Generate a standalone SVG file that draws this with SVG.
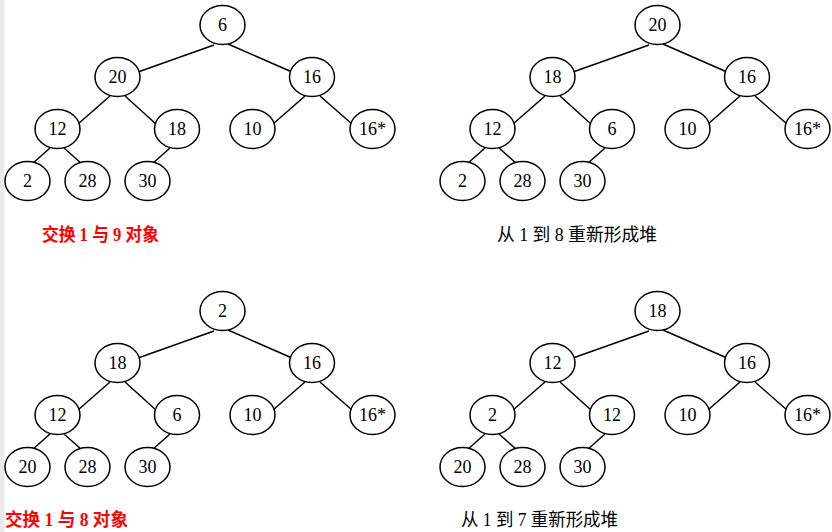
<svg xmlns="http://www.w3.org/2000/svg" width="832" height="532" viewBox="0 0 832 532">
<style>
.bg{fill:#ffffff}
.strip{fill:#e9e9ec}
.n ellipse{fill:#ffffff;stroke:#000;stroke-width:1.5}
.n text{font-family:"Liberation Serif","Times New Roman",serif;font-size:18px;text-anchor:middle;fill:#000}
.e line{stroke:#000;stroke-width:1.5}
.lbl{font-family:"Liberation Serif","Noto Sans CJK SC",serif;font-size:18px}
.red{fill:#ff0000;font-weight:bold}
.blk{fill:#000}
</style>
<rect class="bg" x="0" y="0" width="832" height="532"/>
<rect class="strip" x="0" y="0" width="4.5" height="532"/>

<!-- Top-left tree -->
<g transform="translate(0,0)">
<g class="e" id="tl-edges">
<line x1="214" y1="45" x2="138" y2="72"/>
<line x1="228" y1="44" x2="292" y2="72"/>
<line x1="110" y1="96" x2="78" y2="124"/>
<line x1="125" y1="96" x2="156" y2="124"/>
<line x1="305" y1="96" x2="273" y2="124"/>
<line x1="320" y1="96" x2="352" y2="124"/>
<line x1="50" y1="148" x2="32" y2="164"/>
<line x1="64" y1="148" x2="82" y2="164"/>
<line x1="170" y1="148" x2="152" y2="164"/>
</g>
<g class="n" id="tl-a"><ellipse cx="222.5" cy="25" rx="22.5" ry="19.5"/><text x="222.5" y="30.5">6</text></g>
<g class="n" id="tl-b"><ellipse cx="117.5" cy="77" rx="22.5" ry="19.5"/><text x="117.5" y="82.5">20</text></g>
<g class="n" id="tl-c"><ellipse cx="312" cy="77" rx="22.5" ry="19.5"/><text x="312" y="82.5">16</text></g>
<g class="n" id="tl-d"><ellipse cx="57.5" cy="129" rx="22.5" ry="19.5"/><text x="57.5" y="134.5">12</text></g>
<g class="n" id="tl-e"><ellipse cx="177" cy="129" rx="22.5" ry="19.5"/><text x="177" y="134.5">18</text></g>
<g class="n" id="tl-f"><ellipse cx="252.5" cy="129" rx="22.5" ry="19.5"/><text x="252.5" y="134.5">10</text></g>
<g class="n" id="tl-g"><ellipse cx="372.5" cy="129" rx="22.5" ry="19.5"/><text x="372.5" y="134.5">16*</text></g>
<g class="n" id="tl-h"><ellipse cx="27.5" cy="181" rx="22.5" ry="19.5"/><text x="27.5" y="186.5">2</text></g>
<g class="n" id="tl-i"><ellipse cx="87.5" cy="181" rx="22.5" ry="19.5"/><text x="87.5" y="186.5">28</text></g>
<g class="n" id="tl-j"><ellipse cx="147.5" cy="181" rx="22.5" ry="19.5"/><text x="147.5" y="186.5">30</text></g>
</g>

<!-- Top-right tree -->
<g transform="translate(435,0)">
<g class="e" id="tr-edges">
<line x1="214" y1="45" x2="138" y2="72"/>
<line x1="228" y1="44" x2="292" y2="72"/>
<line x1="110" y1="96" x2="78" y2="124"/>
<line x1="125" y1="96" x2="156" y2="124"/>
<line x1="305" y1="96" x2="273" y2="124"/>
<line x1="320" y1="96" x2="352" y2="124"/>
<line x1="50" y1="148" x2="32" y2="164"/>
<line x1="64" y1="148" x2="82" y2="164"/>
<line x1="170" y1="148" x2="152" y2="164"/>
</g>
<g class="n" id="tr-a"><ellipse cx="222.5" cy="25" rx="22.5" ry="19.5"/><text x="222.5" y="30.5">20</text></g>
<g class="n" id="tr-b"><ellipse cx="117.5" cy="77" rx="22.5" ry="19.5"/><text x="117.5" y="82.5">18</text></g>
<g class="n" id="tr-c"><ellipse cx="312" cy="77" rx="22.5" ry="19.5"/><text x="312" y="82.5">16</text></g>
<g class="n" id="tr-d"><ellipse cx="57.5" cy="129" rx="22.5" ry="19.5"/><text x="57.5" y="134.5">12</text></g>
<g class="n" id="tr-e"><ellipse cx="177" cy="129" rx="22.5" ry="19.5"/><text x="177" y="134.5">6</text></g>
<g class="n" id="tr-f"><ellipse cx="252.5" cy="129" rx="22.5" ry="19.5"/><text x="252.5" y="134.5">10</text></g>
<g class="n" id="tr-g"><ellipse cx="372.5" cy="129" rx="22.5" ry="19.5"/><text x="372.5" y="134.5">16*</text></g>
<g class="n" id="tr-h"><ellipse cx="27.5" cy="181" rx="22.5" ry="19.5"/><text x="27.5" y="186.5">2</text></g>
<g class="n" id="tr-i"><ellipse cx="87.5" cy="181" rx="22.5" ry="19.5"/><text x="87.5" y="186.5">28</text></g>
<g class="n" id="tr-j"><ellipse cx="147.5" cy="181" rx="22.5" ry="19.5"/><text x="147.5" y="186.5">30</text></g>
</g>

<!-- Bottom-left tree -->
<g transform="translate(0,286)">
<g class="e" id="bl-edges">
<line x1="214" y1="45" x2="138" y2="72"/>
<line x1="228" y1="44" x2="292" y2="72"/>
<line x1="110" y1="96" x2="78" y2="124"/>
<line x1="125" y1="96" x2="156" y2="124"/>
<line x1="305" y1="96" x2="273" y2="124"/>
<line x1="320" y1="96" x2="352" y2="124"/>
<line x1="50" y1="148" x2="32" y2="164"/>
<line x1="64" y1="148" x2="82" y2="164"/>
<line x1="170" y1="148" x2="152" y2="164"/>
</g>
<g class="n" id="bl-a"><ellipse cx="222.5" cy="25" rx="22.5" ry="19.5"/><text x="222.5" y="30.5">2</text></g>
<g class="n" id="bl-b"><ellipse cx="117.5" cy="77" rx="22.5" ry="19.5"/><text x="117.5" y="82.5">18</text></g>
<g class="n" id="bl-c"><ellipse cx="312" cy="77" rx="22.5" ry="19.5"/><text x="312" y="82.5">16</text></g>
<g class="n" id="bl-d"><ellipse cx="57.5" cy="129" rx="22.5" ry="19.5"/><text x="57.5" y="134.5">12</text></g>
<g class="n" id="bl-e"><ellipse cx="177" cy="129" rx="22.5" ry="19.5"/><text x="177" y="134.5">6</text></g>
<g class="n" id="bl-f"><ellipse cx="252.5" cy="129" rx="22.5" ry="19.5"/><text x="252.5" y="134.5">10</text></g>
<g class="n" id="bl-g"><ellipse cx="372.5" cy="129" rx="22.5" ry="19.5"/><text x="372.5" y="134.5">16*</text></g>
<g class="n" id="bl-h"><ellipse cx="27.5" cy="181" rx="22.5" ry="19.5"/><text x="27.5" y="186.5">20</text></g>
<g class="n" id="bl-i"><ellipse cx="87.5" cy="181" rx="22.5" ry="19.5"/><text x="87.5" y="186.5">28</text></g>
<g class="n" id="bl-j"><ellipse cx="147.5" cy="181" rx="22.5" ry="19.5"/><text x="147.5" y="186.5">30</text></g>
</g>

<!-- Bottom-right tree -->
<g transform="translate(435,286)">
<g class="e" id="br-edges">
<line x1="214" y1="45" x2="138" y2="72"/>
<line x1="228" y1="44" x2="292" y2="72"/>
<line x1="110" y1="96" x2="78" y2="124"/>
<line x1="125" y1="96" x2="156" y2="124"/>
<line x1="305" y1="96" x2="273" y2="124"/>
<line x1="320" y1="96" x2="352" y2="124"/>
<line x1="50" y1="148" x2="32" y2="164"/>
<line x1="64" y1="148" x2="82" y2="164"/>
<line x1="170" y1="148" x2="152" y2="164"/>
</g>
<g class="n" id="br-a"><ellipse cx="222.5" cy="25" rx="22.5" ry="19.5"/><text x="222.5" y="30.5">18</text></g>
<g class="n" id="br-b"><ellipse cx="117.5" cy="77" rx="22.5" ry="19.5"/><text x="117.5" y="82.5">12</text></g>
<g class="n" id="br-c"><ellipse cx="312" cy="77" rx="22.5" ry="19.5"/><text x="312" y="82.5">16</text></g>
<g class="n" id="br-d"><ellipse cx="57.5" cy="129" rx="22.5" ry="19.5"/><text x="57.5" y="134.5">2</text></g>
<g class="n" id="br-e"><ellipse cx="177" cy="129" rx="22.5" ry="19.5"/><text x="177" y="134.5">12</text></g>
<g class="n" id="br-f"><ellipse cx="252.5" cy="129" rx="22.5" ry="19.5"/><text x="252.5" y="134.5">10</text></g>
<g class="n" id="br-g"><ellipse cx="372.5" cy="129" rx="22.5" ry="19.5"/><text x="372.5" y="134.5">16*</text></g>
<g class="n" id="br-h"><ellipse cx="27.5" cy="181" rx="22.5" ry="19.5"/><text x="27.5" y="186.5">20</text></g>
<g class="n" id="br-i"><ellipse cx="87.5" cy="181" rx="22.5" ry="19.5"/><text x="87.5" y="186.5">28</text></g>
<g class="n" id="br-j"><ellipse cx="147.5" cy="181" rx="22.5" ry="19.5"/><text x="147.5" y="186.5">30</text></g>
</g>

<!-- Captions -->
<g id="captions">
<text class="lbl red" x="42" y="241" textLength="117" lengthAdjust="spacingAndGlyphs">交换 1 与 9 对象</text>
<text class="lbl blk" x="497" y="241" textLength="160" lengthAdjust="spacingAndGlyphs">从 1 到 8 重新形成堆</text>
<text class="lbl red" x="5" y="526" textLength="123" lengthAdjust="spacingAndGlyphs">交换 1 与 8 对象</text>
<text class="lbl blk" x="461" y="526" textLength="157" lengthAdjust="spacingAndGlyphs">从 1 到 7 重新形成堆</text>
</g>
</svg>
